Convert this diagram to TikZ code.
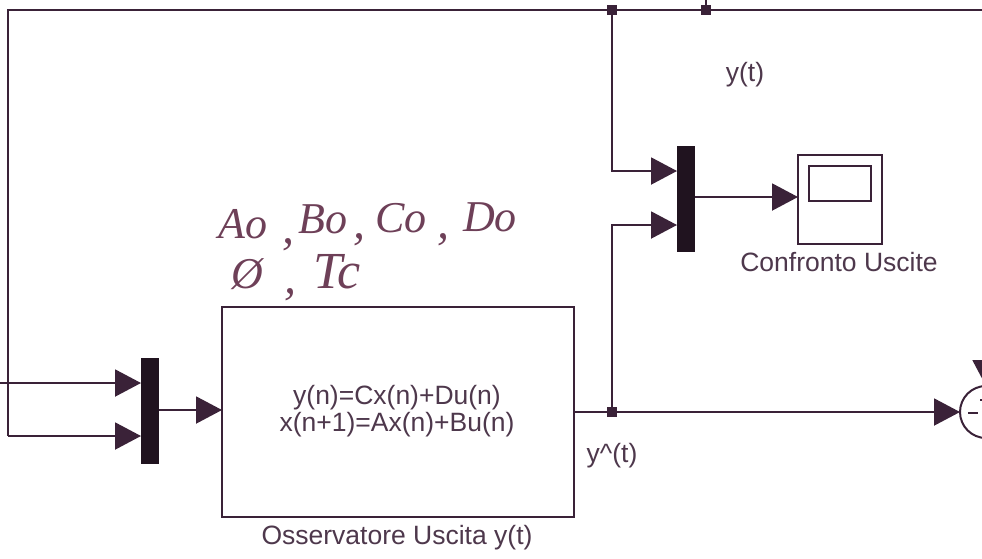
\documentclass[tikz,border=0pt]{standalone}
\usepackage{fontspec}
\setmainfont{Liberation Sans}
\newfontfamily\handfont{Liberation Serif}
\usetikzlibrary{arrows.meta}
\definecolor{ink}{HTML}{3A2238}
\definecolor{hand}{HTML}{6E4058}
\tikzset{
  wire/.style={draw=ink,line width=2pt},
  arrowed/.style={wire,-{Triangle[length=26pt,width=27pt,fill=ink,color=ink]}},
  muxbar/.style={draw=none,fill=ink!55!black,minimum width=18pt,minimum height=106pt,inner sep=0pt,outer sep=0pt},
  block/.style={draw=ink,line width=2pt,fill=none,inner sep=0pt,outer sep=0pt},
  junction/.style={draw=none,fill=ink,minimum size=10pt,inner sep=0pt,outer sep=0pt},
  label/.style={text=ink!90,font=\fontsize{26.5}{27}\selectfont,inner sep=0pt,align=center},
  handw/.style={text=hand,font=\handfont\itshape\fontsize{44}{44}\selectfont,inner sep=0pt,anchor=base},
  handcomma/.style={handw,font=\handfont\itshape\fontsize{48}{48}\selectfont}
}
\begin{document}
\begin{tikzpicture}[x=1pt,y=-1pt]
\useasboundingbox (0,0) rectangle (982,558);
\clip (0,0) rectangle (982,558);
\fill[white] (0,0) rectangle (982,558);
% blocks
\node[muxbar] (muxa) at (150,411) {};
\node[muxbar] (muxb) at (686,199) {};
\node[block,minimum width=352pt,minimum height=210pt] (obs) at (398,412) {};
\node[block,minimum width=84pt,minimum height=89pt] (scope) at (840,199.5) {};
\node[block,minimum width=62pt,minimum height=35pt] (screen) at (840,183.5) {};
\node[block,circle,minimum size=52pt] (sum) at (986,412) {};
\node[junction] (ja) at (612,10) {};
\node[junction] (jb) at (706,10) {};
\node[junction] (jc) at (612,412) {};
% free ends
\coordinate (topend) at (982,10);
\coordinate (jbup) at (706,0);
\coordinate (corner) at (8,10);
\coordinate (cornerb) at (8,436);
\coordinate (leftend) at (0,383);
\coordinate (ma) at (141,383);
\coordinate (mb) at (141,436);
\coordinate (mc) at (677,171);
\coordinate (md) at (677,225);
\coordinate (obsin) at (222,410);
\coordinate (scin) at (798,197);
\coordinate (sumfrom) at (986,340);
% connectors
\draw[wire] (topend) -- (jb.center) -- (ja.center) -- (corner) -- (cornerb);
\draw[wire] (jbup) -- (jb.center);
\draw[arrowed] (cornerb) -- (mb);
\draw[arrowed] (leftend) -- (ma);
\draw[arrowed] (muxa.east |- obsin) -- (obsin);
\draw[wire] (obs.east) -- (jc.center);
\draw[arrowed] (jc.center) -- (sum.west);
\draw[arrowed] (ja.center) |- (mc);
\draw[arrowed] (jc.center) |- (md);
\draw[arrowed] (muxb.east |- scin) -- (scin);
\draw[arrowed] (sumfrom) -- (sum.north);
\draw[wire] (968,413) -- (978,413);
\draw[wire] (980,400) -- (982,400);
% labels
\node[label] (eqs) at (397,411.5) {y(n)=Cx(n)+Du(n)\\x(n+1)=Ax(n)+Bu(n)};
\node[label] (obsl) at (397,538) {Osservatore Uscita y(t)};
\node[label] (yhat) at (612,456) {y\textasciicircum(t)};
\node[label] (yt) at (745,75) {y(t)};
\node[label] (scopel) at (839,262) {Confronto Uscite};
% handwritten parameters
\node[handw] (hao) at (243,238) {Ao};
\node[handw] (hbo) at (323,233) {Bo};
\node[handw] (hco) at (401,232) {Co};
\node[handw] (hdo) at (490,231) {Do};
\node[handw] (hphi) at (247,288) {Ø};
\node[handw,font=\handfont\itshape\fontsize{52}{52}\selectfont] (htc) at (337,288) {Tc};
\node[handcomma] (ca) at (288,243) {,};
\node[handcomma] (cb) at (359,238) {,};
\node[handcomma] (cc) at (443,238) {,};
\node[handcomma] (cd) at (290,293) {,};
\end{tikzpicture}
\end{document}
